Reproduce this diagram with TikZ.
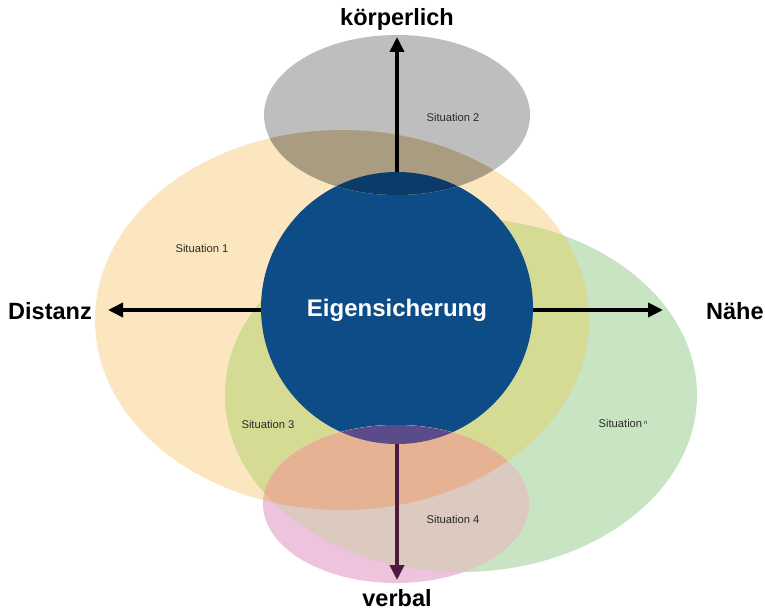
\documentclass[tikz,border=0pt]{standalone}
\usepackage{fontspec}
\setmainfont{Liberation Sans}
\usetikzlibrary{arrows.meta}

\definecolor{sitYellow}{HTML}{FBE6BF}
\definecolor{sitGreen}{HTML}{C9E4C3}
\definecolor{mixYG}{HTML}{D6DB93}
\definecolor{sitGray}{HTML}{BEBEBF}
\definecolor{mixGrayY}{HTML}{A99C80}
\definecolor{mixGrayC}{HTML}{0B3B68}
\definecolor{coreBlue}{HTML}{0D4C86}
\definecolor{sitPink}{HTML}{EDC3DE}
\definecolor{mixPinkG}{HTML}{DCC9BF}
\definecolor{mixPinkY}{HTML}{E9BFA8}
\definecolor{mixPinkYG}{HTML}{E5B394}
\definecolor{mixPinkC}{HTML}{5B4B8B}
\definecolor{verbalArrow}{HTML}{4B1A3D}
\definecolor{labelText}{HTML}{2A2A2A}

% outlines of the situation areas
\newcommand\yellowArea{(342,320) ellipse [x radius=247, y radius=190]}
\newcommand\greenArea{(461,395) ellipse [x radius=236, y radius=177]}
\newcommand\grayArea{(397,115) ellipse [x radius=133, y radius=80]}
\newcommand\pinkArea{(396,504) ellipse [x radius=133, y radius=79]}
\newcommand\coreArea{(397,308) circle [radius=136]}

\begin{document}
\begin{tikzpicture}[x=1pt, y=-1pt,
  axislabel/.style={font=\bfseries\fontsize{23.5}{26}\selectfont, text=black, inner sep=0pt},
  sitlabel/.style={font=\fontsize{11.2}{13}\selectfont, text=labelText, inner sep=0pt},
  axisarrow/.style={line width=3.6pt, -{Triangle[length=15pt, width=14pt]}},
]
\useasboundingbox (0,0) rectangle (765,610);

% Situation 1 and Situation n, with their overlap
\fill[sitYellow] \yellowArea;
\fill[sitGreen] \greenArea;
\begin{scope}
  \clip \yellowArea;
  \fill[mixYG] \greenArea;
\end{scope}

% central circle and its title
\node[circle, minimum size=272pt, inner sep=0pt, fill=coreBlue] (core) at (397,308) {};
\node[text=white, font=\bfseries\fontsize{24}{28}\selectfont, inner sep=0pt] (coretitle) at (397,310) {Eigensicherung};

% Situation 2 on top
\fill[sitGray] \grayArea;
\begin{scope}
  \clip \grayArea;
  \fill[mixGrayY] \yellowArea;
  \fill[mixGrayC] \coreArea;
\end{scope}

% Situation 4 at the bottom
\fill[sitPink] \pinkArea;
\begin{scope}
  \clip \pinkArea;
  \fill[mixPinkY] \yellowArea;
  \fill[mixPinkG] \greenArea;
  \begin{scope}
    \clip \yellowArea;
    \fill[mixPinkYG] \greenArea;
  \end{scope}
  \fill[mixPinkC] \coreArea;
\end{scope}

% axis labels
\node[axislabel] (koerper) at (397,19) {körperlich};
\node[axislabel] (distanz) at (50,311) {Distanz};
\node[axislabel, anchor=west] (naehe) at (706,311) {Nähe};
\node[axislabel] (verbal) at (397,598) {verbal};

% arrow tips
\coordinate (tipN) at (397,37);
\coordinate (tipW) at (108,310);
\coordinate (tipE) at (663,310);
\coordinate (tipS) at (397,580);

% axes
\draw[axisarrow] (core.north) -- (tipN);
\draw[axisarrow] (core.west |- tipW) -- (tipW);
\draw[axisarrow] (core.east |- tipE) -- (tipE);
\draw[axisarrow, verbalArrow] (core.south) -- (tipS);

% situation labels
\node[sitlabel] (s1) at (202,248) {Situation 1};
\node[sitlabel] (s2) at (453,117) {Situation 2};
\node[sitlabel] (s3) at (268,424) {Situation 3};
\node[sitlabel] (s4) at (453,519) {Situation 4};
\node[sitlabel] (sn) at (623,423) {Situation\,\raisebox{0.5ex}{\fontsize{6}{6}\selectfont n}};
\end{tikzpicture}
\end{document}
